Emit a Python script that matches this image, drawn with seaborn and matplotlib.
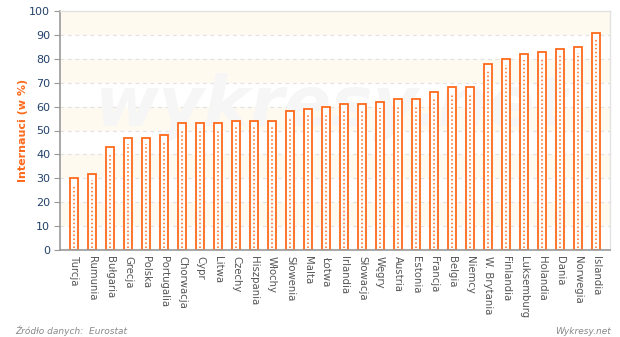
import matplotlib
matplotlib.use("Agg")
import matplotlib.pyplot as plt
import seaborn as sns
import pandas as pd

countries = ["Turcja", "Rumunia", "Bułgaria", "Grecja", "Polska", "Portugalia",
             "Chorwacja", "Cypr", "Litwa", "Czechy", "Hiszpania", "Włochy",
             "Słowenia", "Malta", "Łotwa", "Irlandia", "Słowacja", "Węgry",
             "Austria", "Estonia", "Francja", "Belgia", "Niemcy", "W. Brytania",
             "Finlandia", "Luksemburg", "Holandia", "Dania", "Norwegia", "Islandia"]
values = [30, 32, 43, 47, 47, 48, 53, 53, 53, 54, 54, 54, 58, 59, 60, 61, 61, 62,
          63, 63, 66, 68, 68, 78, 80, 82, 83, 84, 85, 91]
y_ticks = list(range(0, 101, 10))

ORANGE = "#ff6a1c"
TICK_BLUE = "#23416b"
LABEL_GRAY = "#555555"

df = pd.DataFrame({"kraj": countries, "internauci": values})

sns.set_style("white")
fig = plt.figure(figsize=(6.2, 3.37), dpi=100)
ax = fig.add_axes([60 / 620, 1 - 250 / 337, 550 / 620, 239 / 337])

# alternating cream bands
for lo in range(10, 100, 20):
    ax.axhspan(lo, lo + 10, color="#fffaf0", zorder=0, lw=0)
for t in y_ticks[1:-1]:
    ax.axhline(t, color="#e3e3e3", lw=0.9, ls=(0, (3, 3)), zorder=0.5)

# watermark
ax.text(0.495, 0.60, "wykresy.net", transform=ax.transAxes, ha="center", va="center",
        fontsize=50, fontweight="bold", fontstyle="italic", color="#f6f6f6",
        zorder=0.6)

sns.barplot(data=df, x="kraj", y="internauci", color="white", edgecolor=ORANGE,
            linewidth=1.3, width=0.45, ax=ax, zorder=2, saturation=1)

# dotted centre lines inside each bar
xs = list(range(len(values)))
ax.vlines(xs, [0.8] * len(values), [v - 2.6 for v in values], colors=ORANGE,
          linestyles=(0, (1, 1.6)), lw=1.1, zorder=3)

ax.set_ylim(0, 100)
ax.set_xlim(-0.78, len(values) - 0.22)
ax.set_yticks(y_ticks)
ax.set_yticklabels([str(t) for t in y_ticks], color=TICK_BLUE, fontsize=8)
ax.set_xticks(xs)
ax.set_xticklabels(countries, rotation=270, fontsize=7.3, color=LABEL_GRAY,
                   va="top", ha="center")
ax.tick_params(axis="y", length=4, width=0.8, color="#999999", pad=3, left=True)
ax.tick_params(axis="x", length=0, pad=4)
ax.set_xlabel("")
ax.set_ylabel("Internauci (w %)", color=ORANGE, fontsize=8, fontweight="bold",
              labelpad=1)

for side in ("left", "bottom"):
    ax.spines[side].set_color("#9a9a9a")
    ax.spines[side].set_linewidth(1.2)
for side in ("top", "right"):
    ax.spines[side].set_visible(True)
    ax.spines[side].set_color("#e2e2e2")
    ax.spines[side].set_linewidth(1.0)

fig.text(15 / 620, 1 - 331 / 337, "Źródło danych:  Eurostat", fontsize=6.5,
         fontstyle="italic", color="#888888", va="center", ha="left")
fig.text(611 / 620, 1 - 331 / 337, "Wykresy.net", fontsize=6.5,
         fontstyle="italic", color="#888888", va="center", ha="right")

fig.savefig("out.png", dpi=100)
